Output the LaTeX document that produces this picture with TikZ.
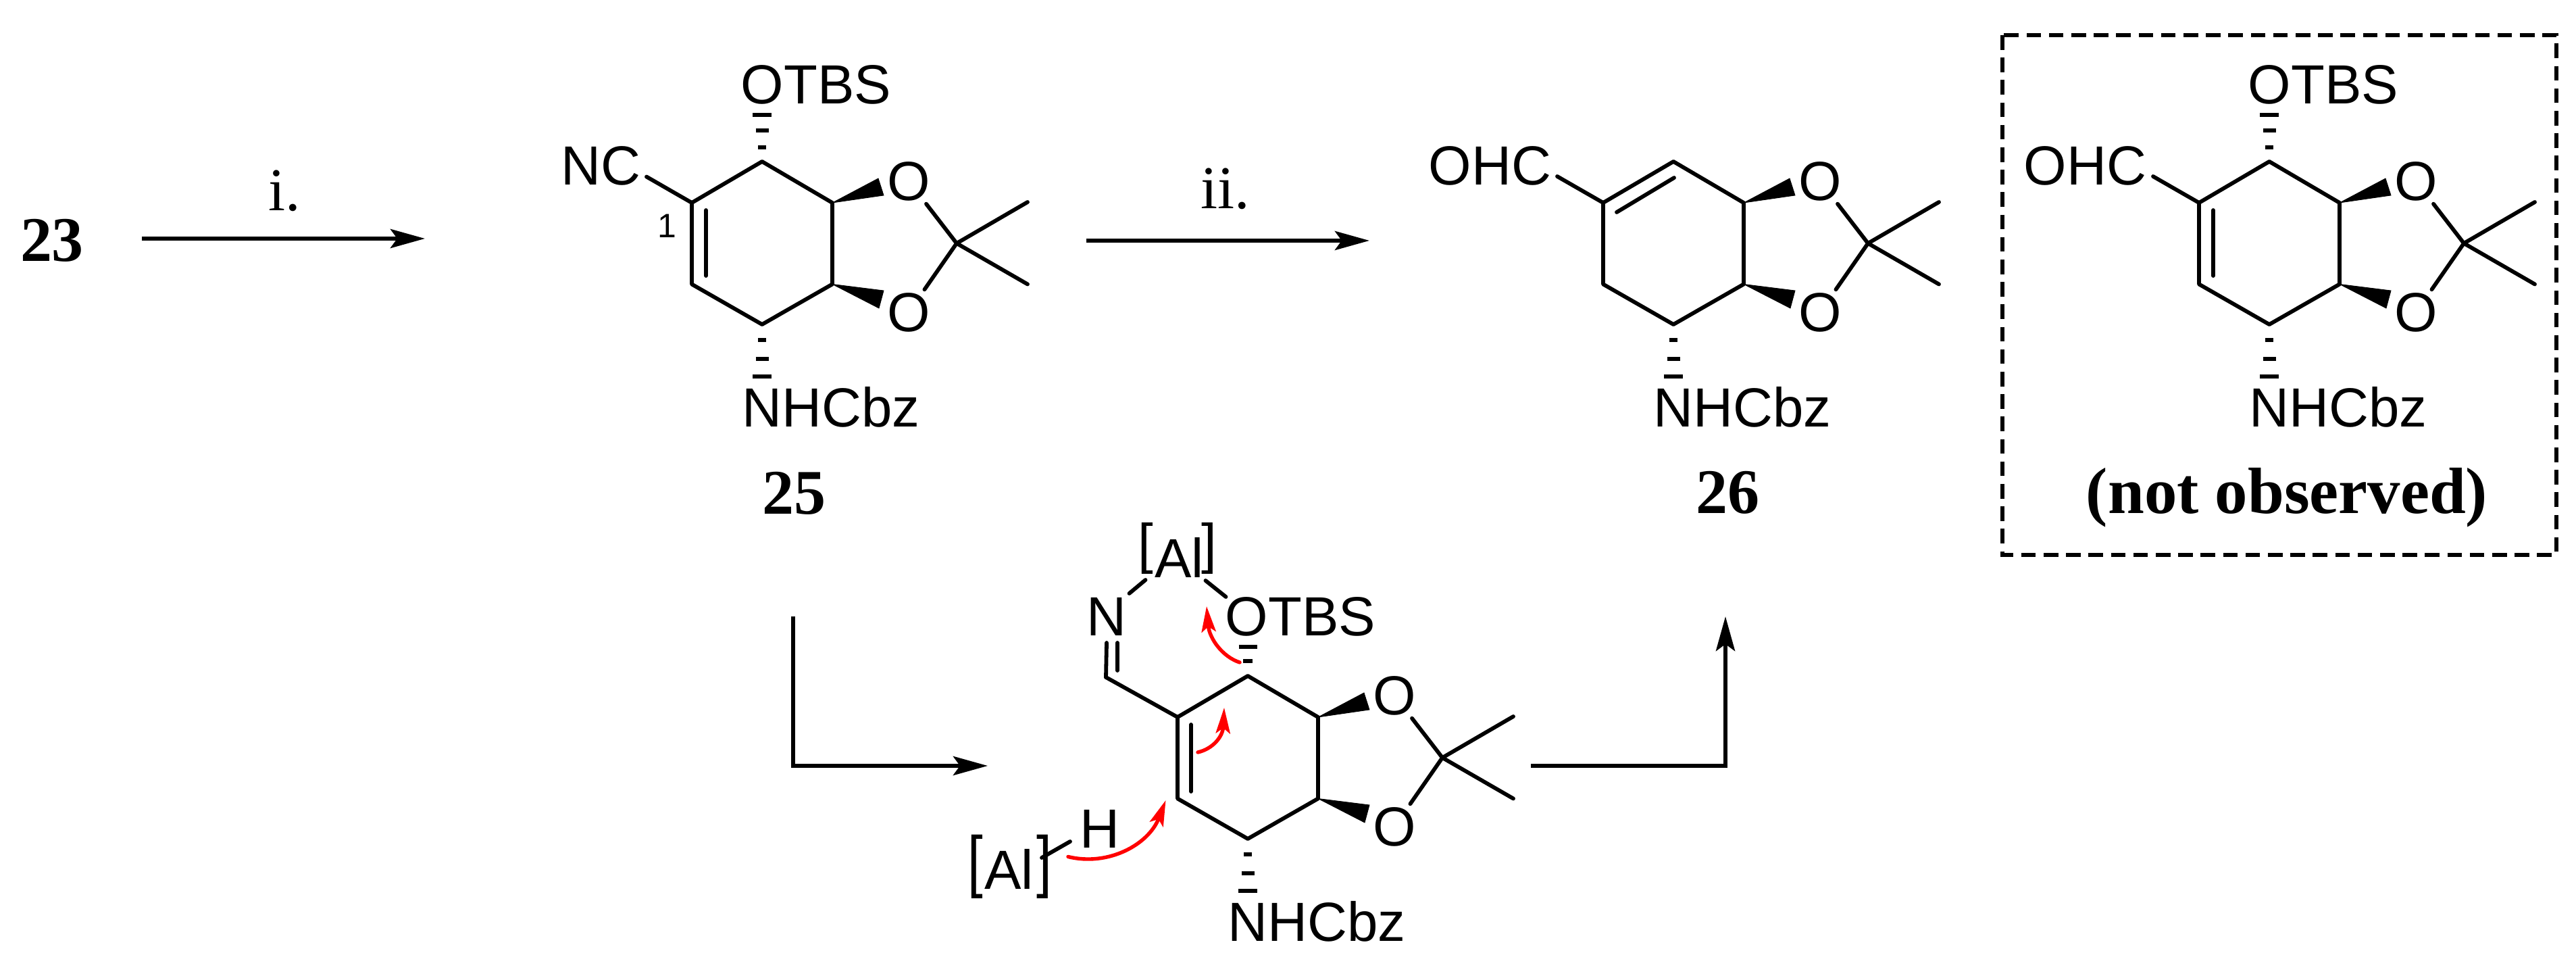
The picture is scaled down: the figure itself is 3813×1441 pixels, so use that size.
\documentclass[tikz,border=0pt]{standalone}
\usepackage{fontspec}
\usepackage{graphicx}
\setmainfont{Liberation Sans}
\newfontfamily\timesf{Liberation Serif}
\usetikzlibrary{arrows.meta}
\definecolor{curvered}{RGB}{255,0,0}
\tikzset{
  x=0.25pt,y=-0.25pt,
  bond/.style={line width=1.45pt,line cap=round,line join=round},
  hashbar/.style={line width=1.4pt},
  wedgebond/.style={fill=black,draw=black,line width=0.2pt},
  atom/.style={font=\fontsize{20.4}{24}\selectfont,inner sep=0pt,anchor=base west},
  ringO/.style={font=\fontsize{20.4}{24}\selectfont,inner sep=1pt,anchor=center},
  num/.style={font=\fontsize{23.5}{28}\selectfont\timesf\bfseries,inner sep=0pt,anchor=base},
  cond/.style={font=\fontsize{22.5}{28}\selectfont\timesf,inner sep=0pt,anchor=base},
  rxn/.style={line width=1.5pt,-{Stealth[length=12.75pt,width=7pt,inset=2.5pt]}},
  curly/.style={line width=1.35pt,curvered,line cap=round,-{Stealth[length=9.5pt,width=5.3pt,inset=2pt]}},
}
\newcommand{\molcore}[3]{%
\begin{scope}[shift={#2},name prefix=#1-]
  \coordinate (Ca) at (0,0);
  \coordinate (C1) at (-104,61);
  \coordinate (C2) at (-104,181.5);
  \coordinate (C5) at (0,241);
  \coordinate (C3) at (104,181.5);
  \coordinate (C4) at (104,61);
  \coordinate (Cq) at (288,121);
  \coordinate (Me1) at (393,60);
  \coordinate (Me2) at (393,181.5);
  \draw[bond] (Ca)--(C1)--(C2)--(C5)--(C3)--(C4)--cycle;
  \node[ringO] (O1) at (217,29) {O};
  \node[ringO] (O2) at (217,223) {O};
  \draw[bond] (O1)--(Cq)--(O2);
  \draw[bond] (Me1)--(Cq)--(Me2);
  \fill[wedgebond] (C4)--(172,25)--(180,50)--cycle;
  \fill[wedgebond] (C3)--(180,191)--(173,217)--cycle;
  \draw[hashbar] (-6,264)--(6,264);
  \draw[hashbar] (-9.5,292)--(9.5,292);
  \draw[hashbar] (-14,318)--(14,318);
  \node[atom] (NHCbz) at (-30,393) {NHCbz};
  #3
\end{scope}}
\begin{document}
\begin{tikzpicture}
\useasboundingbox (0,0) rectangle (3813,1441);

% compound 23 and first arrow
\node[num] (n23) at (77,387) {23};
\coordinate (a1s) at (210,353);
\coordinate (a1e) at (629,353);
\draw[rxn] (a1s)--(a1e);
\node[cond] (c1) at (421,312) {i.};

% compound 25
\molcore{m25}{(1128,239)}{
  \draw[bond] (-83,72)--(-83,169);
  \draw[hashbar] (-6,-21)--(6,-21);
  \draw[hashbar] (-9.5,-46)--(9.5,-46);
  \draw[hashbar] (-14,-69)--(14,-69);
  \node[atom] (OTBS) at (-32,-85) {OTBS};
  \node[atom] (NC) at (-298,34.6) {NC};
  \coordinate (sub) at (-171,22.5);
  \draw[bond] (C1)--(sub);
  \node[font=\fontsize{12.5}{15}\selectfont,inner sep=0pt] (one) at (-141,95) {1};
}
\node[num] (n25) at (1175,761) {25};

% second arrow
\coordinate (a2s) at (1608,356);
\coordinate (a2e) at (2027,356);
\draw[rxn] (a2s)--(a2e);
\node[cond] (c2) at (1814,309) {ii.};

% compound 26
\molcore{m26}{(2477,239)}{
  \draw[bond] (-84,75)--(1,24);
  \node[atom] (OHC) at (-363,35) {OHC};
  \coordinate (sub) at (-172,22);
  \draw[bond] (C1)--(sub);
}
\node[num] (n26) at (2557,760) {26};

% not observed
\draw[line width=1.4pt,dash pattern=on 5.4pt off 2.9pt] (2964,52) rectangle (3784,821);
\molcore{mbox}{(3359,239)}{
  \draw[bond] (-83,72)--(-83,169);
  \draw[hashbar] (-6,-21)--(6,-21);
  \draw[hashbar] (-9.5,-46)--(9.5,-46);
  \draw[hashbar] (-14,-69)--(14,-69);
  \node[atom] (OTBS) at (-32,-85) {OTBS};
  \node[atom] (OHC) at (-364,34.5) {OHC};
  \coordinate (sub) at (-172,22);
  \draw[bond] (C1)--(sub);
}
\node[num,font=\fontsize{24.2}{28}\selectfont\timesf\bfseries] (nobs) at (3385,759.5) {(not observed)};

% bent arrows
\coordinate (a3s) at (1174,912);
\coordinate (a3c) at (1174,1133);
\coordinate (a3e) at (1462,1133);
\draw[rxn] (a3s)--(a3c)--(a3e);
\coordinate (a4s) at (2266,1133);
\coordinate (a4c) at (2554,1133);
\coordinate (a4e) at (2554,912);
\draw[rxn] (a4s)--(a4c)--(a4e);

% intermediate
\molcore{mid}{(1847,1000)}{
  \draw[bond] (-84,72)--(-84,171);
  \draw[hashbar] (-7,-22)--(7,-22);
  \draw[hashbar] (-13.5,-43)--(13.5,-43);
  \node[atom] (OTBS) at (-34,-59) {OTBS};
  \coordinate (CN) at (-210,2);
  \draw[bond] (C1)--(CN);
  \node[atom] (N) at (-239,-59) {N};
  \coordinate (Nd1) at (-209,-49);
  \coordinate (Nd2) at (-193,-49);
  \coordinate (Nd3) at (-193,-8);
  \draw[bond] (CN)--(Nd1);
  \draw[bond] (Nd2)--(Nd3);
  \node[atom] (Al1) at (-163,-145.4) {\raisebox{5.5pt}{[}\kern0.5pt Al\kern-1pt\raisebox{5.5pt}{]}};
  \coordinate (b1s) at (-175.5,-122);
  \coordinate (b1e) at (-151.5,-142);
  \draw[bond] (b1s)--(b1e);
  \coordinate (b2s) at (-62.5,-141);
  \coordinate (b2e) at (-32.5,-117);
  \draw[bond] (b2s)--(b2e);
  \node[atom] (Al2) at (-415,315.7) {\raisebox{1.7pt}{\scalebox{1}[1.24]{[}}\kern0.5pt Al\kern1pt\raisebox{1.7pt}{\scalebox{1}[1.24]{]}}};
  \node[atom] (H) at (-249.5,255) {H};
  \coordinate (b3s) at (-305,269);
  \coordinate (b3e) at (-263,245);
  \draw[bond] (b3s)--(b3e);
  \coordinate (rA1) at (-12,-20);
  \coordinate (rA2) at (-61,-103);
  \draw[curly] (rA1) .. controls (-37,-28) and (-57,-55) .. (rA2);
  \coordinate (rB1) at (-74,113);
  \coordinate (rB2) at (-35,47);
  \draw[curly] (rB1) .. controls (-52,108) and (-37,90) .. (rB2);
  \coordinate (rC1) at (-266,267.5);
  \coordinate (rC2) at (-121.5,184);
  \draw[curly] (rC1) .. controls (-207,282) and (-147,250) .. (rC2);
}
\end{tikzpicture}
\end{document}
